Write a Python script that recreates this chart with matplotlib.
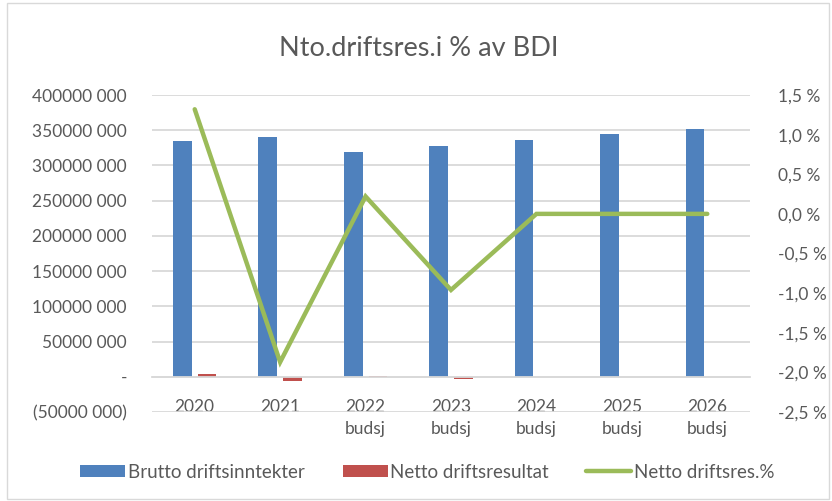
import numpy as np
import matplotlib.pyplot as plt
from matplotlib.patches import Rectangle

# data
years = ['2020', '2021', '2022\nbudsj', '2023\nbudsj', '2024\nbudsj', '2025\nbudsj', '2026\nbudsj']
brutto = [335e6, 341e6, 319e6, 327e6, 336e6, 344e6, 352e6]
netto = [4.4e6, -6.4e6, 0.5e6, -3.1e6, 0, 0, 0]
netto_pct = [1.32, -1.87, 0.22, -0.96, 0.0, 0.0, 0.0]

blue = '#4f81bd'
red = '#c0504d'
green = '#9bbb59'
grey_txt = '#595959'
grid_col = '#d9d9d9'

plt.rcParams['font.family'] = ['Lato', 'DejaVu Sans']

fig = plt.figure(figsize=(8.32, 5.01), dpi=100)
ax = fig.add_axes([152 / 832, 1 - 412 / 501, 598 / 832, 317 / 501])
ax2 = ax.twinx()

x = np.arange(len(years))
w = 0.22
ax.bar(x - 0.145, brutto, w, color=blue, label='Brutto driftsinntekter', zorder=2)
ax.bar(x + 0.145, netto, w, color=red, label='Netto driftsresultat', zorder=2)

ax.set_xlim(-0.5, len(years) - 0.5)
ax.set_ylim(-50e6, 400e6)
ticks = np.arange(-50e6, 400e6 + 1, 50e6)
ax.set_yticks(ticks)


def money(v):
    v = int(round(v))
    if v == 0:
        return '-'
    s = f'{abs(v) // 1000} 000'
    return f'({s})' if v < 0 else s


ax.set_yticklabels([money(v) for v in ticks])
ax.yaxis.grid(True, color=grid_col, linewidth=1.3, zorder=0)
ax.set_axisbelow(True)

ax.spines['bottom'].set_position(('data', 0))
ax.spines['bottom'].set_color(grid_col)
ax.spines['bottom'].set_linewidth(1.3)
for s in ['top', 'left', 'right']:
    ax.spines[s].set_visible(False)
for s in ['top', 'left', 'right', 'bottom']:
    ax2.spines[s].set_visible(False)

ax.set_xticks(x)
ax.set_xticklabels(years, linespacing=1.45)
ax.tick_params(axis='x', length=0, pad=16, labelsize=12.5, labelcolor=grey_txt)
ax.tick_params(axis='y', length=0, pad=18, labelsize=12.5, labelcolor=grey_txt)

ax2.plot(x, netto_pct, color=green, linewidth=3.2, solid_capstyle='round',
         solid_joinstyle='miter', label='Netto driftsres.%', zorder=3)
ax2.set_ylim(-2.5, 1.5)
pticks = np.arange(-2.5, 1.51, 0.5)
ax2.set_yticks(pticks)
ax2.set_yticklabels([f'{v:.1f} %'.replace('.', ',') for v in pticks])
ax2.tick_params(axis='y', length=0, pad=20, labelsize=12.5, labelcolor=grey_txt)

fig.text(0.503, 1 - 48 / 501, 'Nto.driftsres.i % av BDI', ha='center', va='center',
         fontsize=19.5, color=grey_txt)

h1, l1 = ax.get_legend_handles_labels()
h2, l2 = ax2.get_legend_handles_labels()
fig.legend(h1 + h2, l1 + l2, loc='center', bbox_to_anchor=(0.514, 1 - 472 / 501),
           ncol=3, frameon=False, fontsize=13.5, labelcolor=grey_txt,
           handlelength=2.4, handleheight=0.55, handletextpad=0.15, columnspacing=2.0)

fig.patches.append(Rectangle((7 / 832, 2 / 501), 822 / 832, 496 / 501, transform=fig.transFigure,
                             fill=False, edgecolor=grid_col, linewidth=1))

fig.savefig('out.png', dpi=100, facecolor='white')
